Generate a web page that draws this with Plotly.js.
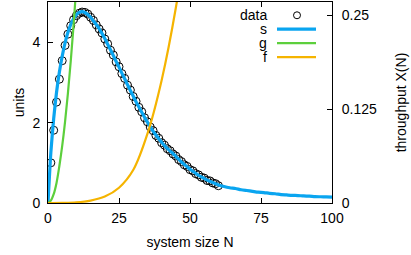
<!DOCTYPE html>
<html>
<head>
<meta charset="utf-8">
<script src="https://cdn.plot.ly/plotly-3.0.1.min.js"></script>
<style>html,body{margin:0;padding:0;background:#fff;}#chart{width:411px;height:255px;}</style>
</head>
<body>
<div id="chart"></div>
<script>
// measured data (system size N vs units)
const dataN = [1,2,3,4,5,6,7,8,9,10,11,12,13,14,15,16,17,18,19,20,21,22,23,24,25,26,27,28,29,30,31,32,33,34,35,36,37,38,39,40,41,42,43,44,45,46,47,48,49,50,51,52,53,54,55,56,57,58,59,60];
const dataY = [1.00,1.81,2.51,3.08,3.54,3.92,4.20,4.41,4.56,4.66,4.72,4.75,4.74,4.70,4.62,4.54,4.43,4.33,4.23,4.08,3.96,3.80,3.68,3.51,3.39,3.22,3.10,2.93,2.81,2.65,2.53,2.38,2.27,2.12,2.02,1.89,1.80,1.68,1.61,1.50,1.44,1.35,1.30,1.22,1.17,1.08,1.03,0.95,0.91,0.83,0.80,0.73,0.70,0.64,0.62,0.56,0.55,0.50,0.48,0.43];

// s curve
const sN = [0,1,2,3,4,5,6,7,8,9,10,11,12,13,14,15,16,17,18,19,20,21,22,23,24,25,26,27,28,29,30,31,32,33,34,35,36,37,38,39,40,41,42,43,44,45,46,47,48,49,50,51,52,53,54,55,56,57,58,59,60,62,64,66,68,70,72,74,76,78,80,82,84,86,88,90,92,94,96,98,100];
const sY = [0,1.25,2.10,2.75,3.25,3.65,3.98,4.24,4.44,4.58,4.68,4.74,4.76,4.74,4.69,4.62,4.53,4.44,4.34,4.22,4.09,3.95,3.81,3.67,3.52,3.38,3.23,3.09,2.94,2.80,2.66,2.52,2.39,2.26,2.13,2.01,1.90,1.79,1.69,1.60,1.51,1.43,1.36,1.29,1.23,1.16,1.09,1.02,0.96,0.90,0.84,0.79,0.74,0.69,0.65,0.61,0.57,0.54,0.51,0.48,0.45,0.41,0.38,0.36,0.33,0.31,0.29,0.27,0.26,0.24,0.23,0.21,0.20,0.19,0.185,0.175,0.17,0.16,0.155,0.15,0.145];

// g curve
const gN = [0,1,2,3,4,5,6,7,8,9,10,11];
const gY = [0,0.06,0.22,0.50,0.92,1.42,2.02,2.72,3.52,4.42,5.42,6.50];

// f curve
const fN = [0,5,10,15,20,25,30,35,40,45,50];
const fY = [0,0.002,0.015,0.06,0.16,0.38,0.82,1.72,3.05,4.85,7.20];

const xTicks = [0,25,50,75,100];
const yTicks = [0,2,4];
const y2Ticks = [0,0.125,0.25];
const y2Labels = ['0','0.125','0.25'];

const FONT = {family:'"Liberation Sans", Arial, sans-serif', size:14, color:'#000'};

const traces = [
  {x:dataN, y:dataY, type:'scatter', mode:'markers', name:'data',
   marker:{symbol:'circle-open', size:8, color:'#000', line:{width:1, color:'#000'}}, showlegend:false},
  {x:sN, y:sY, type:'scatter', mode:'lines', name:'s', line:{color:'#0aa5f0', width:3.2, shape:'spline', smoothing:0.6}, showlegend:false},
  {x:gN, y:gY, type:'scatter', mode:'lines', name:'g', line:{color:'#5ccf3c', width:2.2, shape:'spline'}, showlegend:false},
  {x:fN, y:fY, type:'scatter', mode:'lines', name:'f', line:{color:'#f5b400', width:2.2, shape:'spline'}, showlegend:false},
  {x:[null], y:[null], yaxis:'y2', type:'scatter', mode:'lines', showlegend:false, hoverinfo:'skip'}
];

// manual gnuplot-style legend (text left, sample right)
const legNames = ['data','s','g','f'];
const legColors = ['#000','#0aa5f0','#5ccf3c','#f5b400'];
const legY = [15, 29, 43, 57];
const annotations = legNames.map((t,i)=>({
  text:t, xref:'paper', yref:'paper', x:(268-48)/284, y:(203.3-legY[i])/201.6,
  xanchor:'right', yanchor:'middle', showarrow:false, font:FONT, borderpad:0
}));
const shapes = [];
for (let i=1;i<4;i++){
  shapes.push({type:'line', xref:'paper', yref:'paper', x0:(277-48)/284, x1:(316-48)/284,
    y0:(203.3-legY[i])/201.6, y1:(203.3-legY[i])/201.6, line:{color:legColors[i], width:i===1?3.2:2.2}});
}
shapes.push({type:'circle', xref:'paper', yref:'paper', x0:(293.5-48)/284, x1:(300.5-48)/284,
  y0:(203.3-legY[0]-3.5)/201.6, y1:(203.3-legY[0]+3.5)/201.6, line:{color:'#000', width:1}});

const layout = {
  width:411, height:255,
  margin:{l:48, r:79, t:2, b:52, pad:0},
  paper_bgcolor:'#fff', plot_bgcolor:'#fff',
  font:FONT,
  showlegend:false,
  xaxis:{range:[0,100], tickvals:xTicks, ticks:'inside', ticklen:5, tickcolor:'#000',
    showline:true, linecolor:'#000', linewidth:1, mirror:'ticks', showgrid:false, zeroline:false,
    title:{text:'system size N', font:FONT, standoff:12}, tickfont:FONT, ticklabelstandoff:2},
  yaxis:{range:[0,5], tickvals:yTicks, ticks:'inside', ticklen:5, tickcolor:'#000',
    showline:true, linecolor:'#000', linewidth:1, mirror:false, showgrid:false, zeroline:false,
    title:{text:'units', font:FONT, standoff:4}, tickfont:FONT, ticklabelstandoff:4},
  yaxis2:{range:[0,0.2677], tickvals:y2Ticks, ticktext:y2Labels, overlaying:'y', side:'right',
    ticks:'inside', ticklen:5, tickcolor:'#000', showline:true, linecolor:'#000', linewidth:1,
    showgrid:false, zeroline:false, tickfont:FONT, ticklabelstandoff:6,
    title:{text:'throughput X(N)', font:FONT, standoff:20}},
  annotations:annotations,
  shapes:shapes
};

Plotly.newPlot('chart', traces, layout, {staticPlot:true, displayModeBar:false});
</script>
</body>
</html>
